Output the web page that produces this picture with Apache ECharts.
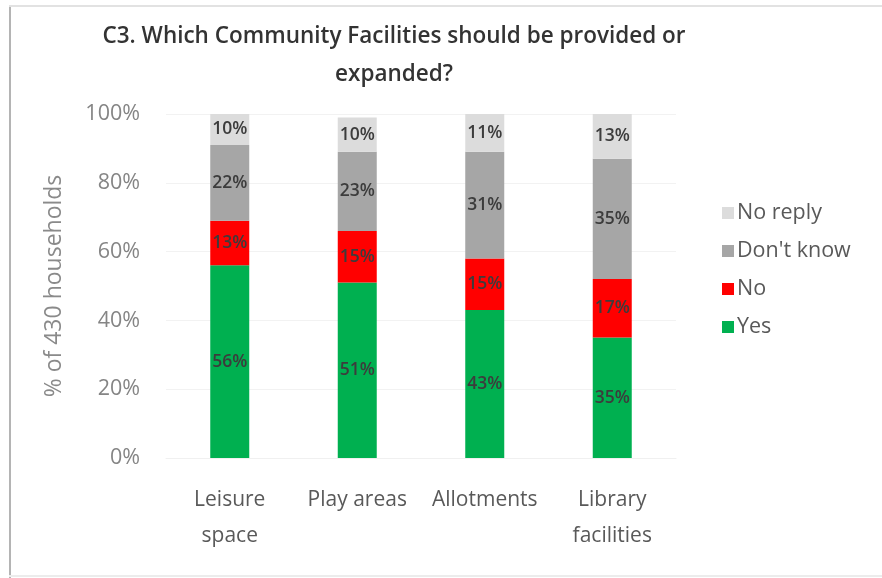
<!DOCTYPE html>
<html>
<head>
<meta charset="utf-8">
<script src="https://cdn.jsdelivr.net/npm/echarts@6/dist/echarts.min.js"></script>
<style>
html,body{margin:0;padding:0;background:#fff;}
#wrap{position:relative;width:882px;height:578px;overflow:hidden;background:#fff;}
#chart{position:absolute;left:0;top:0;width:882px;height:578px;}
#bl{position:absolute;left:9px;top:6px;width:2px;height:572px;background:#b4b4b4;}
#bt{position:absolute;left:9px;top:5px;width:873px;height:2px;background:#e2e2e2;}
#bb{position:absolute;left:9px;top:575px;width:873px;height:2px;background:#ececec;}
</style>
</head>
<body>
<div id="wrap">
<div id="chart"></div>
<div id="bl"></div><div id="bt"></div><div id="bb"></div>
</div>
<script>
var categories = ['Leisure\nspace', 'Play areas', 'Allotments', 'Library\nfacilities'];
var yesValues = [56, 51, 43, 35];
var noValues = [13, 15, 15, 17];
var dontKnowValues = [22, 23, 31, 35];
var noReplyValues = [10, 10, 11, 13];
var yTicks = [0, 20, 40, 60, 80, 100];

var FONT = '"Open Sans", "Noto Sans", sans-serif';
var labelStyle = {show: true, position: 'inside', formatter: '{c}%', color: '#3c3c3c', fontSize: 17.5, fontWeight: 600, fontFamily: FONT};

function mk(name, data, color) {
  return {name: name, type: 'bar', stack: 'total', data: data, barWidth: 39,
    itemStyle: {color: color}, label: labelStyle, emphasis: {disabled: true}};
}

var chart = echarts.init(document.getElementById('chart'), null, {renderer: 'canvas'});
chart.setOption({
  animation: false,
  backgroundColor: 'transparent',
  title: {
    text: 'C3. Which Community Facilities should be provided or\nexpanded?',
    left: 389, top: 13, textAlign: 'center',
    textStyle: {fontFamily: FONT, fontSize: 22.5, fontWeight: 600, color: '#333', lineHeight: 38}
  },
  legend: {
    orient: 'vertical', left: 717, top: 197, itemGap: 16, itemWidth: 12, itemHeight: 12,
    icon: 'rect',
    data: ['No reply', "Don't know", 'No', 'Yes'],
    textStyle: {fontFamily: FONT, fontSize: 21.5, color: '#595959', padding: [0, 0, 0, -2]}
  },
  grid: {left: 166, right: 206, top: 114, bottom: 120, containLabel: false},
  xAxis: {
    type: 'category', data: categories,
    axisLine: {show: true, lineStyle: {color: '#f0f0f0'}},
    axisTick: {show: false},
    axisLabel: {fontFamily: FONT, fontSize: 21, color: '#595959', margin: 24, lineHeight: 36, interval: 0}
  },
  yAxis: {
    type: 'value', min: yTicks[0], max: yTicks[yTicks.length - 1], interval: 20,
    name: '% of 430 households', nameLocation: 'middle', nameGap: 100,
    nameTextStyle: {fontFamily: FONT, fontSize: 23, color: '#8a8a8a'},
    axisLine: {show: false}, axisTick: {show: false},
    axisLabel: {formatter: '{value}%', fontFamily: FONT, fontSize: 21.5, color: '#858585', margin: 26},
    splitLine: {lineStyle: {color: '#f2f2f2'}}
  },
  series: [
    mk('Yes', yesValues, '#00b050'),
    mk('No', noValues, '#ff0000'),
    mk("Don't know", dontKnowValues, '#a6a6a6'),
    mk('No reply', noReplyValues, '#dcdcdc')
  ]
});
</script>
</body>
</html>
